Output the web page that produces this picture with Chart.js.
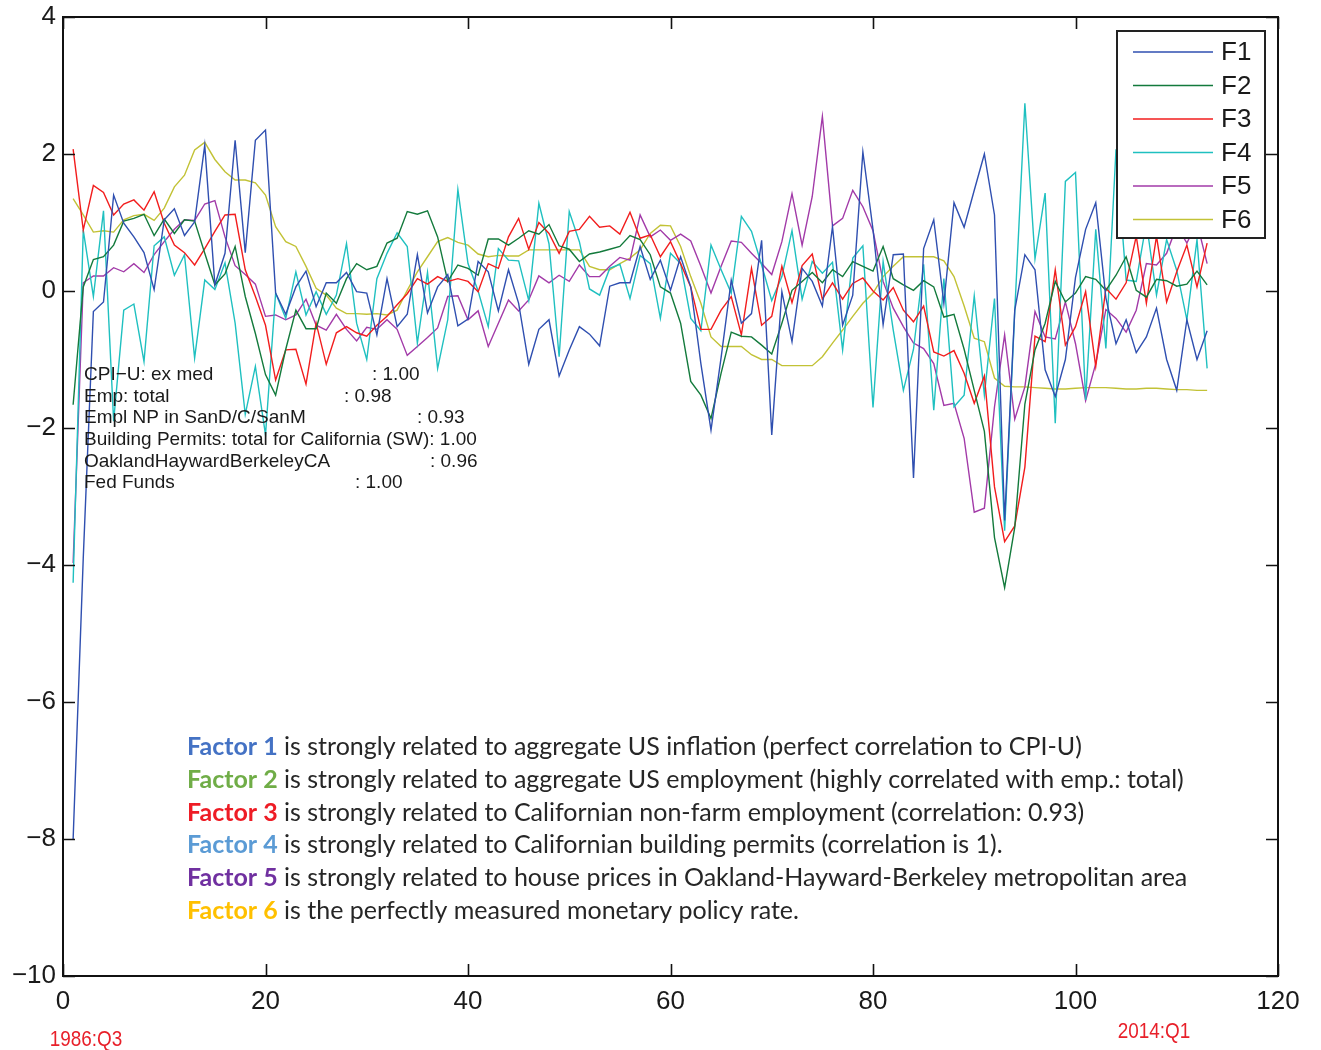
<!DOCTYPE html>
<html>
<head>
<meta charset="utf-8">
<script src="https://cdn.jsdelivr.net/npm/chart.js@4"></script>
<style>
  html, body { margin: 0; padding: 0; background: #fff; }
  #wrap { width: 1321px; height: 1050px; position: relative; }
</style>
</head>
<body>
<div id="wrap"><canvas id="factors"></canvas></div>
<script>
// Estimated factors, one value per quarter (index 1..113)
const F1 = [-8.0, -3.9, -0.3, -0.16, 1.4, 0.99, 0.79, 0.56, 0.02, 1.04,
  1.2, 0.81, 1.01, 2.13, 0.09, 0.55, 2.2, 0.56, 2.2, 2.35,
  -0.03, -0.34, 0.06, 0.29, -0.23, 0.12, 0.12, 0.27, -0.01, -0.03,
  -0.64, 0.18, -0.52, -0.34, 0.53, -0.32, 0.06, 0.24, -0.51, -0.41,
  0.43, 0.28, -0.29, 0.31, -0.18, -1.07, -0.56, -0.42, -1.24, -0.86,
  -0.52, -0.63, -0.8, 0.07, 0.12, 0.12, 0.65, 0.17, 0.45, 0.01,
  0.5, 0.06, -1.06, -2.03, -0.97, 0.16, -0.47, -0.33, 0.74, -2.1,
  -0.01, -0.74, 0.33, 0.14, -0.22, 0.94, -0.5, -0.06, 2.03, 0.9,
  -0.49, 0.53, 0.54, -2.73, 0.62, 1.04, -0.18, 1.29, 0.93, 1.47,
  2.0, 1.11, -3.35, -0.28, 0.53, 0.31, -1.15, -1.54, -1.0, 0.2,
  0.9, 1.29, -0.1, -0.77, -0.42, -0.9, -0.67, -0.25, -1.0, -1.45,
  -0.42, -1.0, -0.58];

const F2 = [-1.66, 0.06, 0.46, 0.5, 0.67, 1.02, 1.06, 1.12, 0.81, 1.05,
  0.84, 1.04, 1.02, 0.55, 0.09, 0.25, 0.65, -0.08, -0.62, -1.22,
  -1.52, -0.85, -0.28, -0.55, -0.55, -0.03, -0.18, 0.18, 0.4, 0.31,
  0.36, 0.7, 0.77, 1.16, 1.12, 1.17, 0.79, 0.14, 0.38, 0.33,
  0.23, 0.76, 0.76, 0.67, 0.77, 0.88, 0.83, 0.97, 0.66, 0.61,
  0.43, 0.54, 0.57, 0.61, 0.65, 0.81, 0.75, 0.53, 0.06, -0.03,
  -0.47, -1.32, -1.52, -1.86, -1.2, -0.6, -0.66, -0.67, -0.79, -0.92,
  -0.47, 0.01, 0.14, 0.27, 0.12, 0.31, 0.21, 0.43, 0.36, 0.29,
  0.65, 0.18, 0.09, 0.01, 0.15, 0.06, -0.38, -0.34, -0.85, -1.45,
  -2.05, -3.6, -4.33, -3.45, -1.65, -0.86, -0.47, 0.14, -0.16, -0.03,
  0.21, 0.17, 0.01, 0.23, 0.5, 0.01, -0.09, 0.17, 0.15, 0.07,
  0.1, 0.29, 0.09];

const F3 = [2.07, 0.89, 1.54, 1.44, 1.11, 1.27, 1.33, 1.18, 1.45, 0.99,
  0.67, 0.56, 0.38, 0.62, 0.87, 1.11, 1.12, 0.31, -0.08, -0.5,
  -1.3, -0.86, -0.85, -1.36, -0.47, -1.07, -0.61, -0.52, -0.61, -0.66,
  -0.5, -0.37, -0.2, -0.04, 0.18, 0.1, 0.21, 0.14, 0.18, 0.14,
  -0.01, 0.4, 0.33, 0.79, 1.06, 0.61, 1.0, 0.84, 0.55, 0.87,
  0.9, 1.09, 0.93, 0.95, 0.83, 1.15, 0.77, 0.82, 0.5, 0.72,
  0.4, 0.06, -0.56, -0.56, -0.28, -0.08, -0.64, 0.33, -0.5, -0.37,
  0.36, -0.17, 0.37, 0.54, -0.12, 0.12, -0.12, 0.11, 0.19, 0.0,
  -0.13, 0.05, -0.28, -0.45, -0.22, -0.89, -0.95, -0.87, -1.2, -1.64,
  -1.24, -2.86, -3.66, -3.43, -2.57, -0.66, -0.74, 0.31, -0.79, -0.52,
  -0.01, -1.1, 0.04, -0.12, 0.12, 0.8, -0.18, 0.8, -0.16, 0.28,
  0.67, 0.06, 0.7];

const F4 = [-4.26, 0.89, -0.08, 1.17, -1.9, -0.28, -0.19, -1.03, 0.66, 0.79,
  0.23, 0.53, -0.98, 0.16, 0.02, 0.41, -0.47, -1.8, -1.1, -2.1,
  -0.03, -0.4, 0.28, -0.35, -0.01, -0.34, -0.06, 0.69, -0.47, -1.0,
  0.18, 0.55, 0.85, 0.65, -0.76, 0.27, -1.13, -0.42, 1.48, 0.4,
  0.0, -0.52, 0.62, 0.45, 0.44, -0.14, 1.28, 0.69, -0.96, 1.16,
  0.72, 0.03, -0.06, 0.33, 0.39, -0.11, 0.52, 0.4, -0.4, 0.55,
  0.4, -0.4, -0.58, 0.67, 0.31, -0.03, 1.09, 0.87, 0.38, -0.14,
  0.21, 0.88, -0.12, 0.43, 0.26, 0.42, -0.86, 0.48, 0.66, -1.7,
  0.43, -0.57, -1.45, -0.85, 0.39, -1.74, 0.18, -1.69, -1.52, -0.07,
  -1.52, -0.11, -3.5, -0.3, 2.74, 0.47, 1.43, -1.93, 1.6, 1.73,
  -1.59, 0.9, -0.84, 2.07, 0.16, 0.14, 1.0, -0.06, 0.75, 0.3,
  -0.42, 0.75, -1.13];

const F5 = [-3.97, 0.12, 0.22, 0.22, 0.34, 0.28, 0.4, 0.27, 0.53, 0.72,
  0.9, 1.04, 1.03, 1.27, 1.32, 0.79, 0.37, 0.24, 0.1, -0.37,
  -0.35, -0.42, -0.35, -0.12, -0.5, -0.57, -0.34, -0.56, -0.73, -0.53,
  -0.56, -0.42, -0.56, -0.94, -0.81, -0.68, -0.54, -0.08, -0.07, -0.42,
  -0.29, -0.81, -0.47, -0.13, -0.29, -0.13, 0.22, 0.12, 0.23, 0.14,
  0.38, 0.21, 0.21, 0.36, 0.49, 0.45, 1.11, 0.79, 0.89, 0.74,
  0.83, 0.73, 0.36, -0.03, 0.36, 0.73, 0.71, 0.55, 0.4, 0.24,
  0.72, 1.42, 0.67, 1.38, 2.55, 0.95, 1.06, 1.47, 1.23, 0.88,
  0.14, -0.25, -0.52, -0.76, -0.84, -1.06, -1.67, -1.64, -2.15, -3.23,
  -3.17, -1.69, -0.64, -1.87, -1.4, -0.3, -0.67, -0.7, -0.16, -0.77,
  -1.6, -1.06, -0.27, -0.4, -0.6, -0.28, 0.4, 0.38, 0.55, 0.95,
  0.7, 1.0, 0.4];

const F6 = [1.35, 1.11, 0.86, 0.88, 0.86, 1.04, 1.1, 1.12, 1.03, 1.21,
  1.52, 1.69, 2.06, 2.17, 1.92, 1.74, 1.62, 1.62, 1.58, 1.4,
  0.94, 0.72, 0.65, 0.36, 0.04, -0.06, -0.25, -0.33, -0.33, -0.34,
  -0.33, -0.35, -0.28, 0.01, 0.28, 0.5, 0.72, 0.78, 0.71, 0.67,
  0.54, 0.5, 0.52, 0.51, 0.51, 0.6, 0.6, 0.6, 0.6, 0.6,
  0.6, 0.36, 0.31, 0.31, 0.4, 0.48, 0.6, 0.84, 0.96, 0.95,
  0.65, 0.21, -0.18, -0.67, -0.81, -0.81, -0.81, -0.93, -1.0, -1.0,
  -1.09, -1.09, -1.09, -1.09, -0.96, -0.76, -0.57, -0.37, -0.18, -0.03,
  0.21, 0.36, 0.5, 0.5, 0.5, 0.5, 0.44, 0.21, -0.22, -0.69,
  -0.74, -1.27, -1.39, -1.4, -1.4, -1.41, -1.42, -1.43, -1.43, -1.42,
  -1.41, -1.41, -1.41, -1.42, -1.43, -1.43, -1.42, -1.42, -1.43, -1.44,
  -1.44, -1.45, -1.45];

const seriesNames = ['F1', 'F2', 'F3', 'F4', 'F5', 'F6'];
const seriesColors = ['#2f4fb0', '#137a3c', '#f21d1d', '#1fc0c0', '#a23aa8', '#c2c236'];
const xTicks = [0, 20, 40, 60, 80, 100, 120];
const yTicks = [4, 2, 0, -2, -4, -6, -8, -10];

// series-to-variable correlation notes (label, value, x of value)
const noteLabels = ['CPI\u2212U: ex med', 'Emp: total', 'Empl NP in SanD/C/SanM',
  'Building Permits: total for California (SW): 1.00', 'OaklandHaywardBerkeleyCA', 'Fed Funds'];
const noteValues = [': 1.00', ': 0.98', ': 0.93', '', ': 0.96', ': 1.00'];
const noteValueX = [372, 344, 417, 0, 430, 355];

const factorHeads = ['Factor 1', 'Factor 2', 'Factor 3', 'Factor 4', 'Factor 5', 'Factor 6'];
const factorHeadColors = ['#4472c4', '#70ad47', '#ee1c25', '#5b9bd5', '#7030a0', '#ffc000'];
const factorTexts = [
  ' is strongly related to aggregate US inflation (perfect correlation to CPI-U)',
  ' is strongly related to aggregate US employment (highly correlated with emp.: total)',
  ' is strongly related to Californian non-farm employment (correlation: 0.93)',
  ' is strongly related to Californian building permits (correlation is 1).',
  ' is strongly related to house prices in Oakland-Hayward-Berkeley metropolitan area',
  ' is the perfectly measured monetary policy rate.'
];

const allSeries = [F1, F2, F3, F4, F5, F6];
const AXIS_FONT = '"Liberation Sans", Arial, sans-serif';
const NOTE_FONT = 'Lato, "Open Sans", sans-serif';

const datasets = allSeries.map((vals, k) => ({
  label: seriesNames[k],
  data: vals.map((v, i) => ({ x: i + 1, y: v })),
  borderColor: seriesColors[k],
  backgroundColor: seriesColors[k],
  borderWidth: 1.4,
  pointRadius: 0,
  showLine: true,
  tension: 0
}));

// frame, inward ticks, legend box and the text overlays
const decor = {
  id: 'decor',
  afterDatasetsDraw(chart) {
    const ctx = chart.ctx;
    const a = chart.chartArea;
    const xs = chart.scales.x, ys = chart.scales.y;
    ctx.save();
    ctx.strokeStyle = '#111';
    ctx.lineWidth = 1.6;
    ctx.beginPath();
    xTicks.forEach(t => {
      const px = Math.round(xs.getPixelForValue(t)) + 0.5;
      ctx.moveTo(px, a.bottom); ctx.lineTo(px, a.bottom - 12);
      ctx.moveTo(px, a.top); ctx.lineTo(px, a.top + 12);
    });
    yTicks.forEach(t => {
      const py = Math.round(ys.getPixelForValue(t)) + 0.5;
      ctx.moveTo(a.left, py); ctx.lineTo(a.left + 12, py);
      ctx.moveTo(a.right, py); ctx.lineTo(a.right - 12, py);
    });
    ctx.stroke();
    ctx.lineWidth = 2;
    ctx.strokeRect(a.left, a.top, a.right - a.left, a.bottom - a.top);

    // small notes
    ctx.fillStyle = '#1a1a1a';
    ctx.font = '19px ' + AXIS_FONT;
    ctx.textBaseline = 'middle';
    ctx.textAlign = 'left';
    noteLabels.forEach((t, i) => {
      const y = 375 + i * 21.6;
      ctx.fillText(t, 84, y);
      if (noteValues[i]) ctx.fillText(noteValues[i], noteValueX[i], y);
    });

    // factor descriptions
    factorHeads.forEach((h, i) => {
      const y = 747 + i * 32.8;
      ctx.font = 'bold 25px ' + NOTE_FONT;
      ctx.fillStyle = factorHeadColors[i];
      ctx.fillText(h, 187, y);
      const w = ctx.measureText(h).width;
      ctx.font = '25px ' + NOTE_FONT;
      ctx.fillStyle = '#262626';
      ctx.fillText(factorTexts[i], 187 + w, y);
    });

    // legend
    const lx = 1117, ly = 31, lw = 148, lh = 207;
    ctx.fillStyle = '#fff';
    ctx.fillRect(lx, ly, lw, lh);
    ctx.lineWidth = 2;
    ctx.strokeStyle = '#222';
    ctx.strokeRect(lx, ly, lw, lh);
    ctx.font = '26px ' + AXIS_FONT;
    seriesNames.forEach((n, i) => {
      const y = 52 + i * 33.5;
      ctx.strokeStyle = seriesColors[i];
      ctx.lineWidth = 1.3;
      ctx.beginPath();
      ctx.moveTo(1133, y); ctx.lineTo(1213, y);
      ctx.stroke();
      ctx.fillStyle = '#1a1a1a';
      ctx.fillText(n, 1221, y + 1);
    });
    ctx.restore();
  },
  afterDraw(chart) {
    // period labels under the axis, condensed
    const ctx = chart.ctx;
    ctx.save();
    ctx.fillStyle = '#e8202a';
    ctx.font = '22px ' + AXIS_FONT;
    ctx.textBaseline = 'middle';
    ctx.textAlign = 'center';
    [['1986:Q3', 86, 1040], ['2014:Q1', 1154, 1032]].forEach(([t, x, y]) => {
      ctx.save();
      ctx.translate(x, y);
      ctx.scale(0.86, 1);
      ctx.fillText(t, 0, 0);
      ctx.restore();
    });
    ctx.restore();
  }
};

new Chart(document.getElementById('factors'), {
  type: 'scatter',
  data: { datasets },
  options: {
    responsive: true,
    maintainAspectRatio: false,
    animation: false,
    layout: { padding: { top: 17, right: 43, left: 0, bottom: 0 } },
    plugins: {
      legend: { display: false },
      tooltip: { enabled: false }
    },
    scales: {
      x: {
        type: 'linear',
        min: 0,
        max: 120,
        afterBuildTicks: s => { s.ticks = xTicks.map(v => ({ value: v })); },
        afterFit: s => { s.height = 74; s.paddingLeft = 0; s.paddingRight = 0; },
        grid: { display: false, drawTicks: false },
        border: { display: false },
        ticks: {
          padding: 10,
          color: '#1a1a1a',
          maxRotation: 0,
          font: { family: AXIS_FONT, size: 26 }
        }
      },
      y: {
        min: -10,
        max: 4,
        afterBuildTicks: s => { s.ticks = yTicks.map(v => ({ value: v })); },
        afterFit: s => { s.width = 63; s.paddingTop = 0; s.paddingBottom = 0; },
        grid: { display: false, drawTicks: false },
        border: { display: false },
        ticks: {
          padding: 7,
          color: '#1a1a1a',
          font: { family: AXIS_FONT, size: 26 },
          callback: v => String(v).replace('-', '\u2212')
        }
      }
    }
  },
  plugins: [decor]
});
</script>
</body>
</html>
